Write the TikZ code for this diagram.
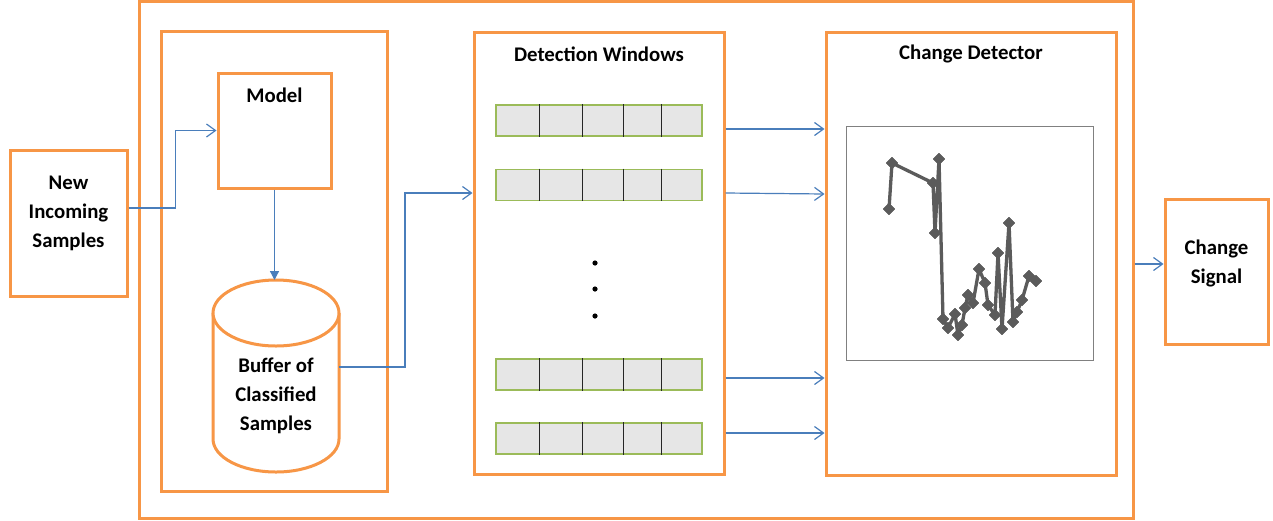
\documentclass[tikz,border=0pt]{standalone}
\usepackage{fontspec}
\setmainfont{Carlito}
\usetikzlibrary{arrows.meta,plotmarks}
\definecolor{org}{HTML}{F79646}
\definecolor{blu}{HTML}{4A7EBB}
\definecolor{grn}{HTML}{9BBB59}
\definecolor{cell}{HTML}{E6E6E6}
\definecolor{plotc}{HTML}{5B5B5B}
\begin{document}
\begin{tikzpicture}[x=1pt,y=-1pt,
  obox/.style={draw=org, line width=3pt, inner sep=0pt, fill=white},
  lbl/.style={font=\bfseries\fontsize{20.8}{29}\selectfont, align=center, inner sep=0pt},
  ttl/.style={font=\bfseries\fontsize{20.8}{24}\selectfont, inner sep=0pt},
  arr/.style={draw=blu, line width=1.2pt, -{Straight Barb[length=9pt,width=13pt,line width=1.2pt]}},
  farr/.style={draw=blu, line width=1.2pt, -{Triangle[length=9pt,width=9pt]}},
  winrow/.style={draw=grn, line width=1.6pt, fill=cell, minimum width=206pt, minimum height=31pt, inner sep=0pt},
  divl/.style={draw=black!85, line width=1pt}
]
\useasboundingbox (0,0) rectangle (1273,520);

% outer frame
\node[obox, minimum width=994pt, minimum height=517pt] (outer) at (636,259.5) {};

% boxes
\node[obox, minimum width=117pt, minimum height=146pt] (nis) at (68.5,223) {};
\node[lbl] (nist) at (68.5,213) {New\\Incoming\\Samples};

\node[obox, minimum width=226pt, minimum height=460pt] (mb) at (274,261) {};
\node[obox, minimum width=113pt, minimum height=115pt] (model) at (274.5,130.5) {};
\node[lbl, anchor=center] (modelt) at (274.5,95) {Model};

% cylinder
\draw[draw=org, line width=3pt, fill=white] (213,313) -- (213,439)
  arc[start angle=180, end angle=360, x radius=63pt, y radius=33pt] -- (339,313);
\draw[draw=org, line width=3pt, fill=white] (276,313) ellipse [x radius=63pt, y radius=33pt];
\coordinate (cyltop) at (276,280);
\coordinate (cylright) at (339,367);
\node[lbl] (buft) at (276,396) {Buffer of\\Classified\\Samples};

% detection windows
\node[obox, minimum width=250pt, minimum height=442pt] (dw) at (599,253) {};
\node[ttl] (dwt) at (599,54) {Detection Windows};
\foreach \nm/\yy in {w1/120.5, w2/185, w3/374.5, w4/438.5}{
  \node[winrow] (\nm) at (599,\yy) {};
  \foreach \dx in {44,87,128,166}{
    \draw[divl] ([xshift=\dx pt]\nm.north west) -- ([xshift=\dx pt]\nm.south west);
  }
}
\fill (595,263) circle[radius=2.6pt];
\fill (595,289) circle[radius=2.6pt];
\fill (595,316) circle[radius=2.6pt];

% change detector
\node[obox, minimum width=290pt, minimum height=443pt] (cd) at (971,253.5) {};
\node[ttl] (cdt) at (971,54) {Change Detector};
\node[draw=black!50, line width=1pt, minimum width=247pt, minimum height=234pt, inner sep=0pt] (chart) at (969.5,243) {};
\draw[plotc, line width=3.3pt, line join=round]
  plot[mark=square*, mark size=4.1pt, mark options={solid, rotate=45, fill=plotc, draw=plotc, line width=0.5pt}]
  coordinates {(889,209) (892,163) (933,183) (935,233) (939,159) (943,319)
   (948,328) (955,314) (958,335) (962,325) (965,308) (968,295) (973,303)
   (979,269) (985,283) (988,305) (995,315) (998,253) (1002,329) (1009,223)
   (1013,322) (1017,312) (1022,300) (1029,276) (1036,281)};

% change signal
\node[obox, minimum width=103pt, minimum height=145pt] (cs) at (1216.5,271.5) {};
\node[lbl] (cst) at (1216.5,263) {Change\\Signal};

% connectors
\draw[arr] ([yshift=15pt]nis.east) -- ++(47,0) |- (model.west);
\draw[farr] (model.south) -- (model.south |- cyltop);
\draw[arr] (cylright) -- (405,367) |- (dw.west |- 0,193);
\draw[arr] (dw.east |- 0,129) -- (cd.west |- 0,129);
\draw[arr] (dw.east |- 0,193) -- (cd.west |- 0,194);
\draw[arr] (dw.east |- 0,378) -- (cd.west |- 0,378);
\draw[arr] (dw.east |- 0,433) -- (cd.west |- 0,433);
\draw[arr] (outer.east |- 0,264) -- (cs.west |- 0,264);
\end{tikzpicture}
\end{document}
